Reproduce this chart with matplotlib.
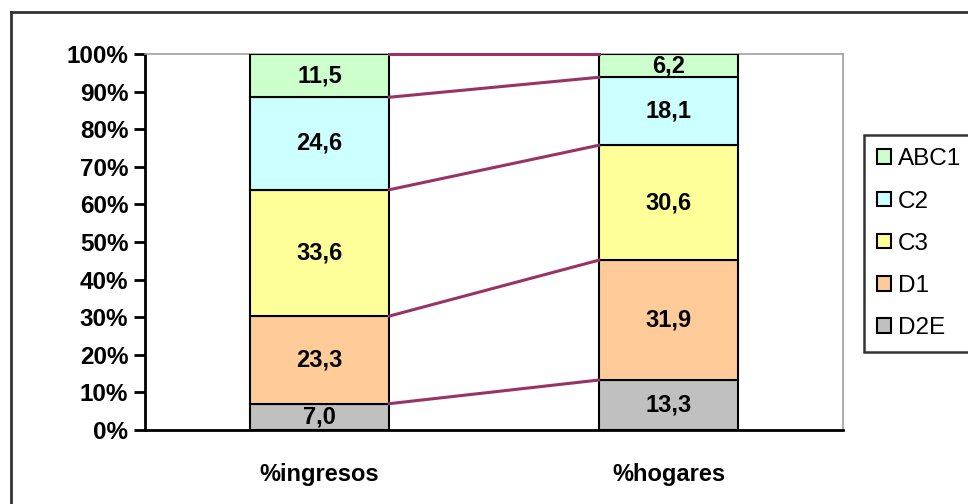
import matplotlib
matplotlib.use("Agg")
import matplotlib.pyplot as plt
from matplotlib.lines import Line2D
from matplotlib.patches import Patch
from matplotlib.ticker import PercentFormatter
import numpy as np

# Datos
categorias = ["%ingresos", "%hogares"]
grupos = ["D2E", "D1", "C3", "C2", "ABC1"]
d2e = [7.0, 13.3]
d1 = [23.3, 31.9]
c3 = [33.6, 30.6]
c2 = [24.6, 18.1]
abc1 = [11.5, 6.2]
colores = ["#C0C0C0", "#FFCC99", "#FFFF99", "#CCFFFF", "#CCFFCC"]

plt.rcParams["font.family"] = ["Liberation Sans", "DejaVu Sans"]

valores = np.array([d2e, d1, c3, c2, abc1])
# 100% apilado, como Excel
porc = valores / valores.sum(axis=0) * 100

fig = plt.figure(figsize=(9.68, 5.04), dpi=100)
ax = fig.add_axes([145 / 968, 74 / 504, 698 / 968, 376 / 504])

x = np.arange(len(categorias))
ancho = 0.4
base = np.zeros(len(categorias))
for i, grupo in enumerate(grupos):
    ax.bar(x, porc[i], ancho, bottom=base, color=colores[i],
           edgecolor="black", linewidth=1.5, label=grupo, zorder=3)
    for j in range(len(categorias)):
        ax.text(x[j], base[j] + porc[i][j] / 2, f"{valores[i][j]:.1f}".replace(".", ","),
                ha="center", va="center", fontsize=17, fontweight="bold", zorder=4)
    base = base + porc[i]
    # lineas de serie
    ax.plot([x[0] + ancho / 2, x[1] - ancho / 2], [base[0], base[1]],
            color="#993366", linewidth=2.2, zorder=5, clip_on=False)

ax.set_xlim(-0.5, 1.5)
ax.set_ylim(0, 100)
ax.set_yticks(np.arange(0, 101, 10))
ax.yaxis.set_major_formatter(PercentFormatter(decimals=0))
ax.set_xticks(x)
ax.set_xticklabels(categorias, fontsize=17, fontweight="bold")
ax.tick_params(axis="x", length=0, pad=24)
ax.tick_params(axis="y", length=8, width=2, direction="out", labelsize=17.5, pad=4)
for lab in ax.get_yticklabels():
    lab.set_fontweight("bold")

for lado in ["top", "right"]:
    ax.spines[lado].set_color("#A0A0A0")
    ax.spines[lado].set_linewidth(1.2)
for lado in ["left", "bottom"]:
    ax.spines[lado].set_color("black")
    ax.spines[lado].set_linewidth(2)

# leyenda
handles = [Patch(facecolor=colores[i], edgecolor="black", linewidth=1.5, label=grupos[i])
           for i in range(len(grupos) - 1, -1, -1)]
leg = fig.legend(handles=handles, loc="upper left",
                 bbox_to_anchor=(864 / 968, 1 - 135 / 504), fontsize=17.5,
                 frameon=True, fancybox=False, handlelength=0.55, handleheight=0.55,
                 handletextpad=0.3, labelspacing=0.83, borderpad=0.55, borderaxespad=0)
leg.get_frame().set_edgecolor("black")
leg.get_frame().set_linewidth(1.8)

# marco exterior
fig.add_artist(Line2D([11 / 968, 1.0], [1 - 12 / 504, 1 - 12 / 504],
                      color="#333333", linewidth=2, transform=fig.transFigure))
fig.add_artist(Line2D([11 / 968, 11 / 968], [0, 1 - 12 / 504],
                      color="#333333", linewidth=2, transform=fig.transFigure))

fig.savefig("out.png", dpi=100)
